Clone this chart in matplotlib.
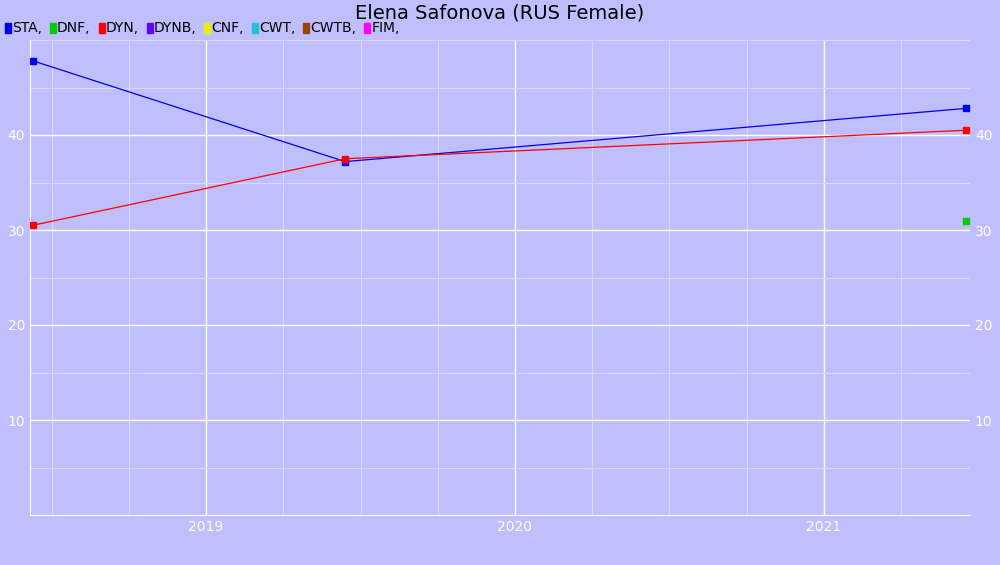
import matplotlib
matplotlib.use("Agg")
import matplotlib.pyplot as plt
from matplotlib.ticker import MultipleLocator

sta_x = [2018.44, 2019.45, 2021.46]
sta_y = [47.8, 37.2, 42.8]
dyn_x = [2018.44, 2019.45, 2021.46]
dyn_y = [30.5, 37.5, 40.5]
dnf_x = [2021.46]
dnf_y = [31.0]
legend_names = ["STA", "DNF", "DYN", "DYNB", "CNF", "CWT", "CWTB", "FIM"]
legend_colors = ["#0000ee", "#00cc00", "#ff0000", "#6600ff", "#eeee00", "#22c0d0", "#994400", "#ff00ff"]
year_ticks = [2019, 2020, 2021]
y_ticks = [10, 20, 30, 40]

bg = "#bfbfff"
fig = plt.figure(figsize=(10, 5.65), dpi=100, facecolor=bg)
ax = fig.add_axes([0.030, 1 - 515/565, 0.940, 475/565], facecolor=bg)
ax.set_xlim(2018.43, 2021.473)
ax.set_ylim(0, 50)
ax.xaxis.set_minor_locator(MultipleLocator(0.25))
ax.yaxis.set_minor_locator(MultipleLocator(5))
ax.set_xticks(year_ticks)
ax.set_xticklabels([str(y) for y in year_ticks])
ax.set_yticks(y_ticks)
ax.grid(which="major", color="white", lw=1)
ax.grid(which="minor", color="#d8d8ff", lw=0.8)
ax.set_axisbelow(True)
for s in ax.spines.values():
    s.set_visible(False)
ax.spines["left"].set_visible(True); ax.spines["left"].set_color("white")
ax.spines["bottom"].set_visible(True); ax.spines["bottom"].set_color("white")
ax.tick_params(which="both", length=0, colors="white", labelsize=10)
ax.tick_params(axis="y", labelright=True, right=False)

ax.plot(sta_x, sta_y, color="#0000ee", lw=0.9, marker="s", ms=5, zorder=3)
ax.plot(dyn_x, dyn_y, color="#ff0000", lw=0.9, marker="s", ms=5, zorder=3)
ax.plot(dnf_x, dnf_y, color="#00cc00", lw=0, marker="s", ms=5, zorder=3)

fig.text(0.5, 1 - 13/565, "Elena Safonova (RUS Female)", ha="center", va="center", fontsize=14, color="black")
x = 5
for name, c in zip(legend_names, legend_colors):
    fig.patches.append(plt.Rectangle((x/1000, 1 - 33/565), 6/1000, 10/565, color=c, transform=fig.transFigure, figure=fig))
    t = fig.text((x + 7)/1000, 1 - 28/565, name + ",", ha="left", va="center", fontsize=10)
    fig.canvas.draw()
    bb = t.get_window_extent()
    x = bb.x1 + 8

fig.savefig("out.png", dpi=100, facecolor=bg)
